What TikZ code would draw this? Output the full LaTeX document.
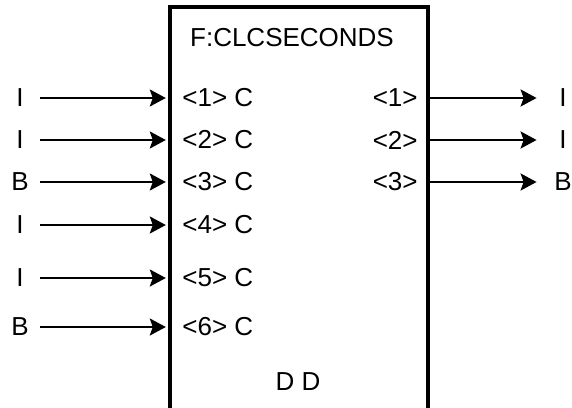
\documentclass[tikz,border=0pt]{standalone}
\usepackage{fontspec}
\setmainfont{Liberation Sans}
\usetikzlibrary{arrows.meta}
\begin{document}
\begin{tikzpicture}[x=0.5pt,y=-0.5pt,
  font=\fontsize{13}{15}\selectfont,
  blk/.style={draw,line width=2.2pt,minimum width=129pt,minimum height=210pt,inner sep=0pt},
  sig/.style={line width=1.1pt,-{Stealth[length=8pt,width=8.5pt,inset=1.5pt]}},
  inlbl/.style={inner sep=0pt,minimum width=20pt},
  outlbl/.style={inner sep=0pt,minimum width=26pt},
  pin/.style={inner sep=0pt}]
  \useasboundingbox (0,0) rectangle (572,407);
  \clip (0,0) rectangle (572,407);
  \node[blk] (fn) at (299,217) {};
  \node (title) at (292,38) {F:CLCSECONDS};
  \foreach \i/\y/\t in {1/98/I,2/140/I,3/182/B,4/225/I,5/278/I,6/327/B}{
    \node[inlbl] (a\i) at (20,\y) {\t};
    \node[pin,anchor=west] (p\i) at (182,\y) {<\i> C};
    \draw[sig,shorten >=1pt] (a\i.east) -- (fn.west |- a\i);
  }
  \foreach \i/\y/\t in {1/98/I,2/140/I,3/182/B}{
    \node[pin,anchor=east] (q\i) at (418,\y) {<\i>};
    \node[outlbl] (b\i) at (563,\y) {\t};
    \draw[sig] (fn.east |- b\i) -- (b\i.west);
  }
  \node (dd) at (298,382) {D D};
\end{tikzpicture}
\end{document}
